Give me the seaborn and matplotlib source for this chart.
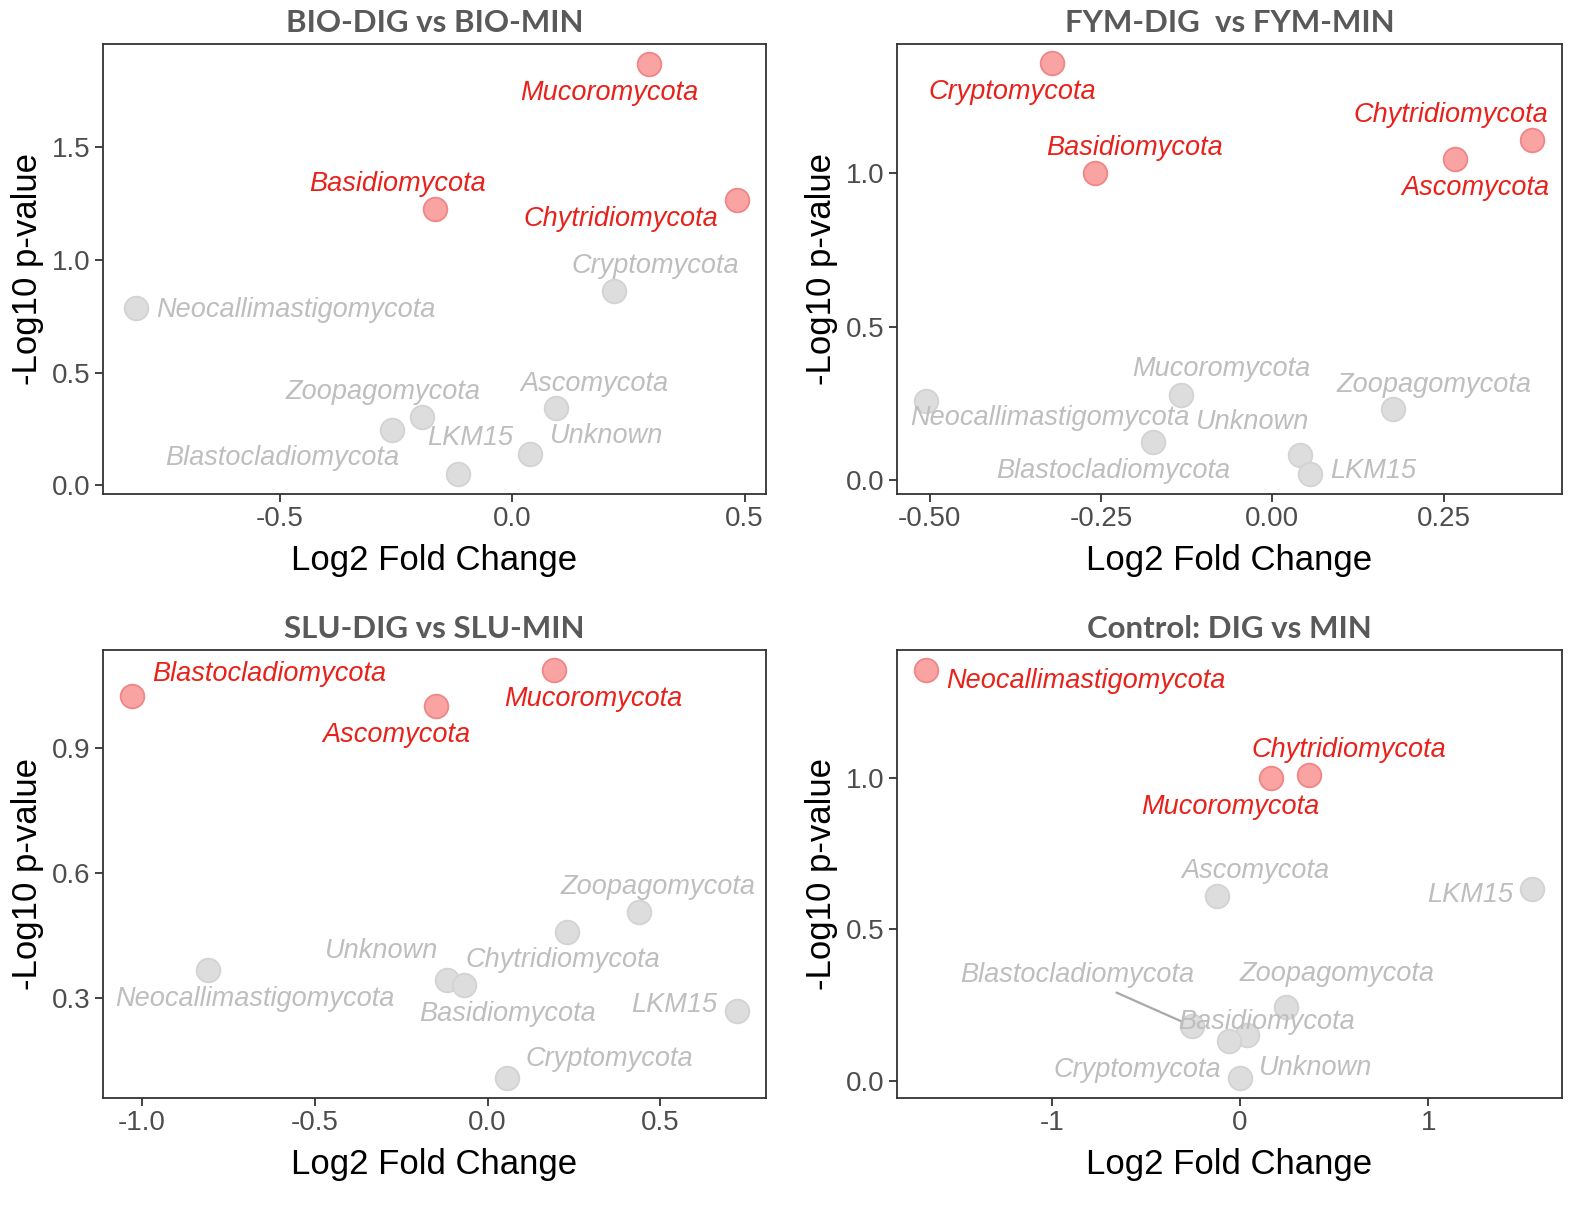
import numpy as np
import pandas as pd
import matplotlib
matplotlib.use("Agg")
import matplotlib.pyplot as plt
import seaborn as sns

# -----------------------------------------------------------------------------
# DATA
# -----------------------------------------------------------------------------
bio_names = ["Mucoromycota", "Basidiomycota", "Chytridiomycota", "Cryptomycota",
             "Neocallimastigomycota", "Zoopagomycota", "Blastocladiomycota",
             "Ascomycota", "Unknown", "LKM15"]
bio_lfc = [0.295, -0.165, 0.483, 0.219, -0.808, -0.194, -0.259, 0.094, 0.038, -0.117]
bio_logp = [1.867, 1.225, 1.264, 0.862, 0.786, 0.303, 0.246, 0.343, 0.138, 0.049]
bio_sig = [True, True, True, False, False, False, False, False, False, False]

fym_names = ["Cryptomycota", "Basidiomycota", "Chytridiomycota", "Ascomycota",
             "Neocallimastigomycota", "Mucoromycota", "Blastocladiomycota",
             "Zoopagomycota", "Unknown", "LKM15"]
fym_lfc = [-0.321, -0.259, 0.379, 0.267, -0.506, -0.133, -0.174, 0.176, 0.040, 0.055]
fym_logp = [1.359, 1.000, 1.109, 1.046, 0.259, 0.276, 0.123, 0.232, 0.080, 0.019]
fym_sig = [True, True, True, True, False, False, False, False, False, False]

slu_names = ["Blastocladiomycota", "Ascomycota", "Mucoromycota", "Zoopagomycota",
             "Chytridiomycota", "Neocallimastigomycota", "Unknown", "Basidiomycota",
             "LKM15", "Cryptomycota"]
slu_lfc = [-1.028, -0.149, 0.191, 0.438, 0.229, -0.809, -0.118, -0.067, 0.721, 0.055]
slu_logp = [1.026, 1.002, 1.090, 0.505, 0.458, 0.366, 0.341, 0.330, 0.267, 0.106]
slu_sig = [True, True, True, False, False, False, False, False, False, False]

ctl_names = ["Neocallimastigomycota", "Mucoromycota", "Chytridiomycota", "Ascomycota",
             "LKM15", "Zoopagomycota", "Blastocladiomycota", "Basidiomycota",
             "Cryptomycota", "Unknown"]
ctl_lfc = [-1.668, 0.163, 0.366, -0.123, 1.548, 0.246, -0.254, 0.036, -0.061, 0.000]
ctl_logp = [1.357, 1.001, 1.011, 0.609, 0.633, 0.243, 0.181, 0.151, 0.132, 0.011]
ctl_sig = [True, True, True, False, False, False, False, False, False, False]

titles = ["BIO-DIG vs BIO-MIN", "FYM-DIG  vs FYM-MIN", "SLU-DIG vs SLU-MIN", "Control: DIG vs MIN"]

# -----------------------------------------------------------------------------
# LAYOUT: label offsets (screen pixels, y down), axis ranges, ticks
# -----------------------------------------------------------------------------
bio_offsets = {"Mucoromycota": (-40, 29), "Basidiomycota": (-38, -25), "Chytridiomycota": (-116, 19),
               "Cryptomycota": (41, -25), "Neocallimastigomycota": (159, 2), "Zoopagomycota": (-39, -25),
               "Blastocladiomycota": (-109, 28), "Ascomycota": (39, -24), "Unknown": (77, -18),
               "LKM15": (12, -36)}
fym_offsets = {"Cryptomycota": (-40, 29), "Basidiomycota": (40, -25), "Chytridiomycota": (-81, -25),
               "Ascomycota": (20, 29), "Neocallimastigomycota": (124, 17), "Mucoromycota": (40, -26),
               "Blastocladiomycota": (-40, 29), "Zoopagomycota": (41, -24), "Unknown": (-47, -33),
               "LKM15": (63, -3)}
slu_offsets = {"Blastocladiomycota": (137, -22), "Ascomycota": (-40, 29), "Mucoromycota": (40, 29),
               "Zoopagomycota": (19, -25), "Chytridiomycota": (-4, 28), "Neocallimastigomycota": (47, 29),
               "Unknown": (-65, -29), "Basidiomycota": (43, 29), "LKM15": (-62, -6),
               "Cryptomycota": (103, -19)}
ctl_offsets = {"Neocallimastigomycota": (160, 11), "Chytridiomycota": (40, -25), "Mucoromycota": (-40, 29),
               "Ascomycota": (39, -25), "LKM15": (-61, 6), "Zoopagomycota": (51, -33),
               "Blastocladiomycota": (-115, -51), "Basidiomycota": (20, -13), "Cryptomycota": (-91, 29),
               "Unknown": (76, -10)}
segment_labels = {(3, "Blastocladiomycota")}

panels = [
    (bio_names, bio_lfc, bio_logp, bio_sig, bio_offsets),
    (fym_names, fym_lfc, fym_logp, fym_sig, fym_offsets),
    (slu_names, slu_lfc, slu_logp, slu_sig, slu_offsets),
    (ctl_names, ctl_lfc, ctl_logp, ctl_sig, ctl_offsets),
]
xlims = [(-0.88, 0.546), (-0.548, 0.423), (-1.113, 0.806), (-1.821, 1.709)]
ylims = [(-0.038, 1.957), (-0.046, 1.422), (0.058, 1.137), (-0.056, 1.422)]
xticks = [([-0.5, 0.0, 0.5], ["-0.5", "0.0", "0.5"]),
          ([-0.5, -0.25, 0.0, 0.25], ["-0.50", "-0.25", "0.00", "0.25"]),
          ([-1.0, -0.5, 0.0, 0.5], ["-1.0", "-0.5", "0.0", "0.5"]),
          ([-1, 0, 1], ["-1", "0", "1"])]
yticks = [([0.0, 0.5, 1.0, 1.5], ["0.0", "0.5", "1.0", "1.5"]),
          ([0.0, 0.5, 1.0], ["0.0", "0.5", "1.0"]),
          ([0.3, 0.6, 0.9], ["0.3", "0.6", "0.9"]),
          ([0.0, 0.5, 1.0], ["0.0", "0.5", "1.0"])]

# axes boxes in figure pixels: left, top, right, bottom
W, H = 1595, 1210
boxes = [(103, 44, 766, 494), (897, 44, 1562, 494), (103, 650, 766, 1098), (897, 650, 1562, 1098)]

RED_TXT = "#E8221B"
GREY_TXT = "#BEBEBE"
palette = {True: "#F9A3A3", False: "#DDDDDD"}
edges = {True: "#F08686", False: "#D3D3D3"}

sns.set_theme(style="white")
plt.rcParams["font.family"] = ["Liberation Sans", "DejaVu Sans"]
plt.rcParams["axes.unicode_minus"] = False

fig = plt.figure(figsize=(W / 100, H / 100), dpi=100)

for i, (names, lfc, logp, sig, offsets) in enumerate(panels):
    l, t, r, b = boxes[i]
    ax = fig.add_axes([l / W, 1 - b / H, (r - l) / W, (b - t) / H])
    df = pd.DataFrame({"name": names, "lfc": lfc, "logp": logp, "sig": sig})

    for flag in [False, True]:
        sub = df[df["sig"] == flag]
        sns.scatterplot(data=sub, x="lfc", y="logp", color=palette[flag], edgecolor=edges[flag],
                        linewidth=1.3, s=290, legend=False, ax=ax, zorder=3)

    for _, row in df.iterrows():
        dx, dy = offsets[row["name"]]
        col = RED_TXT if row["sig"] else GREY_TXT
        arrow = None
        if (i, row["name"]) in segment_labels:
            arrow = dict(arrowstyle="-", color="#A8A8A8", lw=1.6, shrinkA=2, shrinkB=9)
        ax.annotate(row["name"], xy=(row["lfc"], row["logp"]), xytext=(dx, -dy),
                    textcoords="offset pixels", ha="center", va="center",
                    fontsize=19.5, fontstyle="italic", color=col, zorder=4,
                    arrowprops=arrow)

    ax.set_xlim(*xlims[i])
    ax.set_ylim(*ylims[i])
    ax.set_xticks(xticks[i][0])
    ax.set_xticklabels(xticks[i][1])
    ax.set_yticks(yticks[i][0])
    ax.set_yticklabels(yticks[i][1])
    ax.tick_params(axis="both", which="major", direction="out", length=6, width=1.3,
                   color="#333333", labelsize=20, labelcolor="#4D4D4D", pad=3,
                   bottom=True, left=True)
    for sp in ax.spines.values():
        sp.set_color("#333333")
        sp.set_linewidth(1.3)
    ax.grid(False)
    ax.set_xlabel("Log2 Fold Change", fontsize=25, color="black", labelpad=8)
    ax.set_ylabel("-Log10 p-value", fontsize=25, color="black", labelpad=6)
    ax.set_title(titles[i], fontsize=22.5, fontweight="bold", color="#595959",
                 family=["Lato", "DejaVu Sans"], pad=9)

fig.savefig("out.png", dpi=100, facecolor="white")
print("saved out.png")
